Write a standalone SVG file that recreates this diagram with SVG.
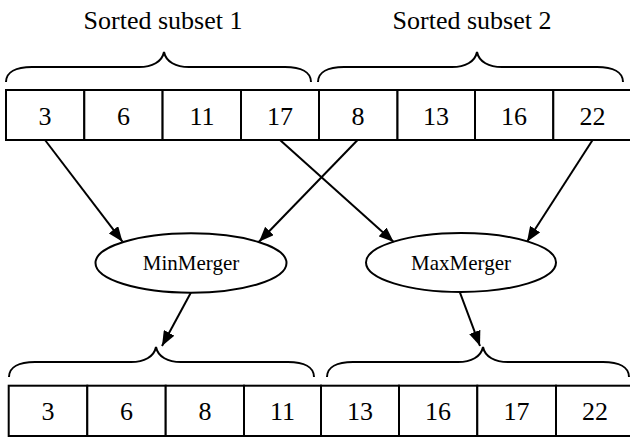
<svg xmlns="http://www.w3.org/2000/svg" width="630" height="439" viewBox="0 0 630 439">
  <style>
    .cell { fill: #ffffff; stroke: #000000; stroke-width: 2; }
    .brace { fill: none; stroke: #000000; stroke-width: 2; }
    .num { font-family: "Liberation Serif", "Times New Roman", serif; font-size: 26px; text-anchor: middle; fill: #000000; }
    .title { font-family: "Liberation Serif", "Times New Roman", serif; font-size: 26px; text-anchor: middle; fill: #000000; }
    .node-shape { fill: #ffffff; stroke: #000000; stroke-width: 2; }
    .node-label { font-family: "Liberation Serif", "Times New Roman", serif; font-size: 21px; text-anchor: middle; fill: #000000; }
    .edge { fill: none; stroke: #000000; stroke-width: 2; marker-end: url(#arrowhead); }
  </style>
  <defs>
    <marker id="arrowhead" markerUnits="userSpaceOnUse" markerWidth="16" markerHeight="12" refX="15" refY="6" orient="auto">
      <path d="M0,0 L15,6 L0,12 z" fill="#000000"/>
    </marker>
  </defs>

  <rect width="630" height="439" fill="#ffffff"/>

  <!-- headings -->
  <text class="title" x="163" y="29">Sorted subset 1</text>
  <text class="title" x="472" y="29">Sorted subset 2</text>

  <!-- braces over the input array -->
  <g id="input-braces">
    <path class="brace" d="M6,82 C6,72 16,67 32,67 L139,67 C152,67 162,62 164,52 C166,62 176,67 189,67 L285,67 C301,67 311,72 311,82"/>
    <path class="brace" d="M318,82 C318,72 328,67 344,67 L452,67 C465,67 475,62 477,52 C479,62 489,67 502,67 L597,67 C613,67 623,72 623,82"/>
  </g>

  <!-- input array -->
  <g id="input-array">
    <rect class="cell" x="6" y="90" width="78.3" height="50"/>
    <rect class="cell" x="84.3" y="90" width="78.3" height="50"/>
    <rect class="cell" x="162.6" y="90" width="78.4" height="50"/>
    <rect class="cell" x="241" y="90" width="78" height="50"/>
    <rect class="cell" x="319" y="90" width="78.5" height="50"/>
    <rect class="cell" x="397.5" y="90" width="77.5" height="50"/>
    <rect class="cell" x="475" y="90" width="78.3" height="50"/>
    <rect class="cell" x="553.3" y="90" width="78.3" height="50"/>
    <text class="num" x="45" y="125">3</text>
    <text class="num" x="123.5" y="125">6</text>
    <text class="num" x="202" y="125">11</text>
    <text class="num" x="280" y="125">17</text>
    <text class="num" x="358" y="125">8</text>
    <text class="num" x="436" y="125">13</text>
    <text class="num" x="514" y="125">16</text>
    <text class="num" x="592.5" y="125">22</text>
  </g>

  <!-- merger nodes -->
  <g id="min-merger">
    <ellipse class="node-shape" cx="191" cy="263" rx="95.5" ry="29.7"/>
    <text class="node-label" x="191" y="270">MinMerger</text>
  </g>
  <g id="max-merger">
    <ellipse class="node-shape" cx="461" cy="262.5" rx="95" ry="29.5"/>
    <text class="node-label" x="461" y="270">MaxMerger</text>
  </g>

  <!-- connectors -->
  <g id="connectors">
    <line class="edge" x1="45" y1="140" x2="122.5" y2="241.7"/>
    <line class="edge" x1="357.6" y1="140" x2="259" y2="241.7"/>
    <line class="edge" x1="280" y1="140" x2="393.7" y2="242"/>
    <line class="edge" x1="592.6" y1="140" x2="527" y2="241.7"/>
    <line class="edge" x1="190.8" y1="292.7" x2="162" y2="346"/>
    <line class="edge" x1="460" y1="292.7" x2="480" y2="346"/>
  </g>

  <!-- braces over the output array -->
  <g id="output-braces">
    <path class="brace" d="M9,377 C9,367 19,362 35,362 L131,362 C144,362 154,357 156,347 C158,357 168,362 181,362 L288,362 C304,362 314,367 314,377"/>
    <path class="brace" d="M327,377 C327,367 337,362 353,362 L458,362 C471,362 481,357 483,347 C485,357 495,362 508,362 L603,362 C619,362 629,367 629,377"/>
  </g>

  <!-- output array -->
  <g id="output-array">
    <rect class="cell" x="8.7" y="385.7" width="78.6" height="50.3"/>
    <rect class="cell" x="87.3" y="385.7" width="78.4" height="50.3"/>
    <rect class="cell" x="165.7" y="385.7" width="78.3" height="50.3"/>
    <rect class="cell" x="244" y="385.7" width="77" height="50.3"/>
    <rect class="cell" x="321" y="385.7" width="78" height="50.3"/>
    <rect class="cell" x="399" y="385.7" width="78.3" height="50.3"/>
    <rect class="cell" x="477.3" y="385.7" width="78.7" height="50.3"/>
    <rect class="cell" x="556" y="385.7" width="78" height="50.3"/>
    <text class="num" x="48" y="420">3</text>
    <text class="num" x="126.5" y="420">6</text>
    <text class="num" x="205" y="420">8</text>
    <text class="num" x="282.5" y="420">11</text>
    <text class="num" x="360" y="420">13</text>
    <text class="num" x="438" y="420">16</text>
    <text class="num" x="516.5" y="420">17</text>
    <text class="num" x="595" y="420">22</text>
  </g>
</svg>
